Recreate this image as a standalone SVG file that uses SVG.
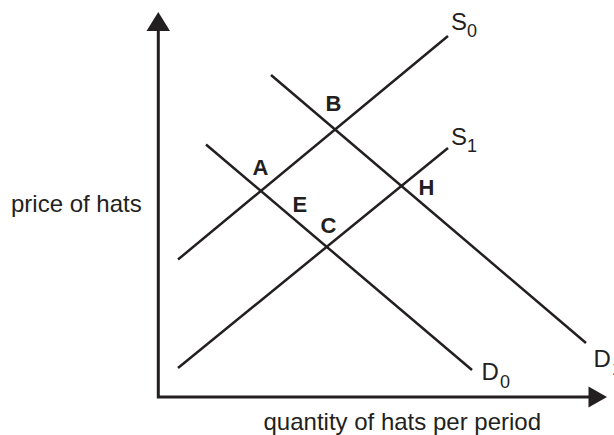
<svg xmlns="http://www.w3.org/2000/svg" width="614" height="435" viewBox="0 0 614 435">
  <style>
    .ax { stroke: #231f20; stroke-width: 3; fill: none; }
    .head { fill: #231f20; stroke: none; }
    .ln { stroke: #231f20; stroke-width: 2.5; fill: none; stroke-linecap: butt; }
    .lab { font-family: "Liberation Sans", Arial, sans-serif; font-size: 24px; fill: #231f20; }
    .pt { font-family: "Liberation Sans", Arial, sans-serif; font-size: 22px; font-weight: bold; fill: #231f20; }
    .sub { font-size: 18px; }
  </style>
  <rect width="614" height="435" fill="#ffffff"/>
  <g id="axes">
    <path class="ax" d="M158.3,30 L158.3,397 L590,397"/>
    <polygon class="head" points="158.3,12 146.5,31 170,31"/>
    <polygon class="head" points="607,397 588.5,386.5 588.5,407.5"/>
  </g>
  <g id="curves">
    <line id="S0" class="ln" x1="178" y1="259.5" x2="448" y2="36"/>
    <line id="S1" class="ln" x1="178" y1="368" x2="448" y2="148"/>
    <line id="D0" class="ln" x1="206" y1="144.5" x2="472" y2="370"/>
    <line id="D1" class="ln" x1="271" y1="75" x2="586" y2="343"/>
  </g>
  <g id="curve-labels">
    <text class="lab" x="451" y="30">S<tspan class="sub" x="467" y="37">0</tspan></text>
    <text class="lab" x="451" y="145">S<tspan class="sub" x="467" y="152">1</tspan></text>
    <text class="lab" x="481.5" y="380">D<tspan class="sub" x="500" y="388">0</tspan></text>
    <text class="lab" x="593.5" y="367">D<tspan class="sub" x="612" y="375">1</tspan></text>
  </g>
  <g id="points">
    <text class="pt" x="252.5" y="175">A</text>
    <text class="pt" x="325.5" y="111">B</text>
    <text class="pt" x="320.5" y="233">C</text>
    <text class="pt" x="292.5" y="212">E</text>
    <text class="pt" x="418.5" y="195">H</text>
  </g>
  <g id="axis-labels">
    <text class="lab" x="11" y="212">price of hats</text>
    <text class="lab" x="263.5" y="430">quantity of hats per period</text>
  </g>
</svg>
